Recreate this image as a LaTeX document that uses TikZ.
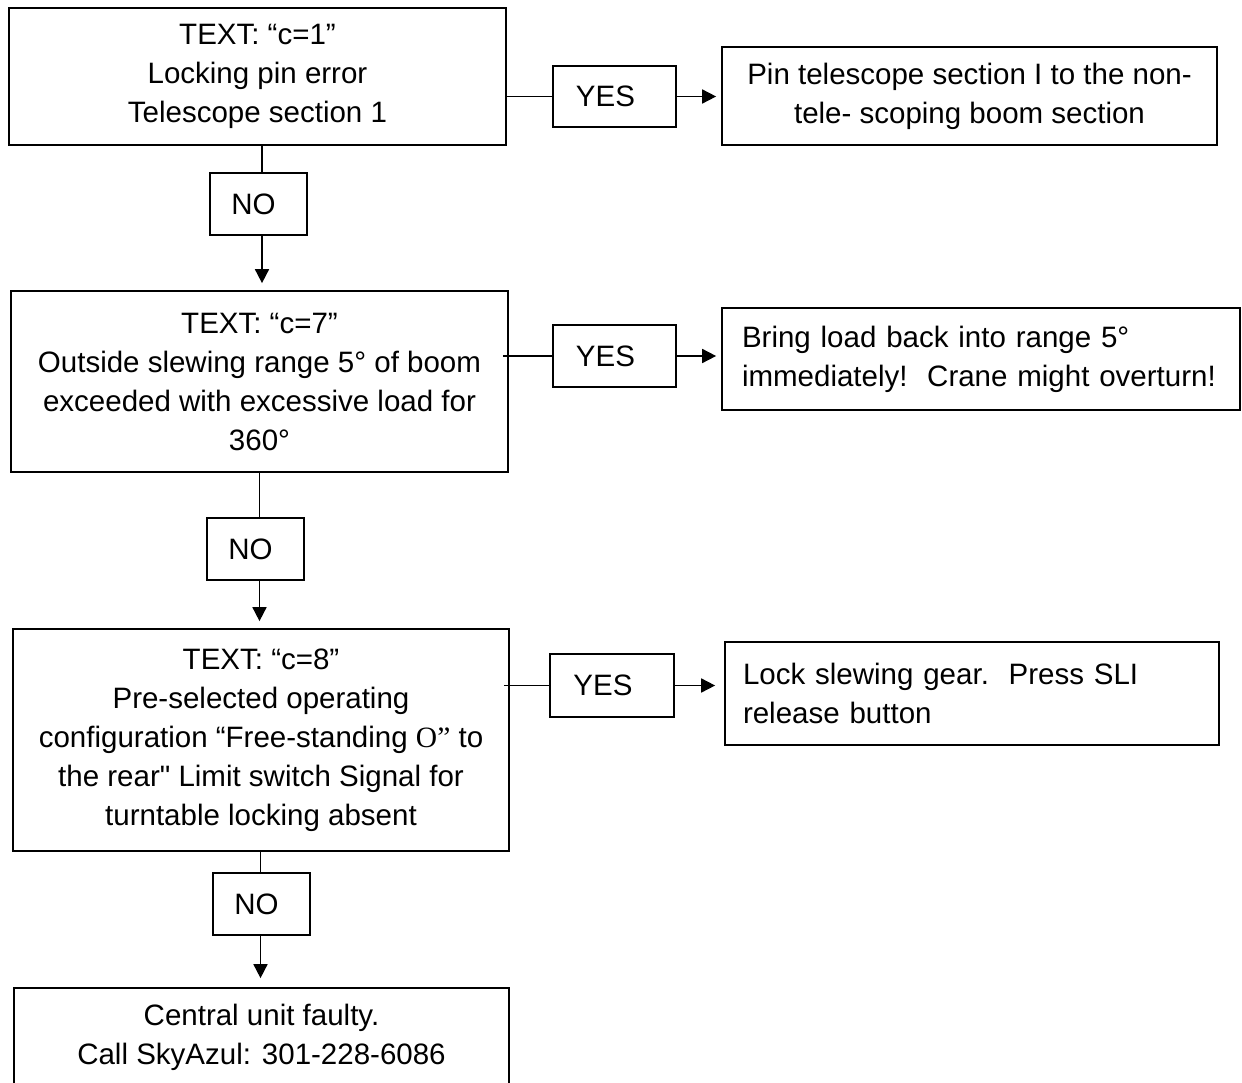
\documentclass[tikz,border=0pt]{standalone}
\usepackage{fontspec}
\newfontfamily\arial{Liberation Sans}
\newfontfamily\serifO{Liberation Serif}
\usetikzlibrary{arrows.meta}
\begin{document}
\begin{tikzpicture}[x=1pt,y=-1pt,
  box/.style={draw, line width=1.7pt, inner sep=0pt, align=center, font=\arial\fontsize{29.5}{39}\selectfont},
  lbox/.style={box, align=left},
  conn/.style={line width=1.7pt},
  arr/.style={line width=1.7pt, -{Triangle[length=14pt,width=14pt]}}]
\useasboundingbox (0,0) rectangle (1242,1083);
\fill[white] (0,0) rectangle (1242,1083);

% left column
\node[box, minimum width=497pt, minimum height=137pt] (b1) at (257.5,76.5)
  {TEXT: “c=1”\\Locking pin error\\Telescope section 1};
\node[box, minimum width=97pt, minimum height=62pt] (no1) at (258.5,204) {\hspace*{-10pt}NO};
\node[box, minimum width=497pt, minimum height=181pt] (b2) at (259.5,381.5)
  {TEXT: “c=7”\\Outside slewing range 5° of boom\\exceeded with excessive load for\\360°};
\node[box, minimum width=97pt, minimum height=62pt] (no2) at (255.5,549) {\hspace*{-10pt}NO};
\node[box, minimum width=496pt, minimum height=222pt] (b3) at (261,740)
  {TEXT: “c=8”\\Pre-selected operating\\configuration “Free-standing {\serifO O”} to\\the rear" Limit switch Signal for\\turntable locking absent};
\node[box, minimum width=97pt, minimum height=62pt] (no3) at (261.5,904) {\hspace*{-10pt}NO};
\node[box, minimum width=495pt, minimum height=98pt] (b4) at (261.5,1037)
  {Central unit faulty.\\Call SkyAzul: 301-228-6086};

% right column
\node[box, minimum width=123pt, minimum height=61pt] (y1) at (614.5,96.5) {\hspace*{-18pt}YES};
\node[box, minimum width=495pt, minimum height=98pt] (r1) at (969.5,96)
  {Pin telescope section I to the non-\\tele- scoping boom section};
\node[box, minimum width=123pt, minimum height=62pt] (y2) at (614.5,356) {\hspace*{-18pt}YES};
\node[lbox, text width=478pt, inner xsep=20pt, minimum height=102pt] (r2) at (981,359)
  {Bring load back into range 5°\\immediately!\ \ Crane might overturn!};
\node[box, minimum width=124pt, minimum height=63pt] (y3) at (612,685.5) {\hspace*{-18pt}YES};
\node[lbox, text width=458pt, inner xsep=18pt, minimum height=103pt] (r3) at (972,693.5)
  {Lock slewing gear.\ \ Press SLI\\release button};

% column x positions
\coordinate (c1) at (262,0);
\coordinate (c2) at (259.5,0);
\coordinate (c3) at (260.5,0);

% NO connectors
\draw[conn] (b1.south -| c1) -- (no1.north -| c1);
\draw[arr, shorten >=7pt] (no1.south -| c1) -- (b2.north -| c1);
\draw[conn] (b2.south -| c2) -- (no2.north -| c2);
\draw[arr, shorten >=7pt] (no2.south -| c2) -- (b3.north -| c2);
\draw[conn] (b3.south -| c3) -- (no3.north -| c3);
\draw[arr, shorten >=9pt] (no3.south -| c3) -- (b4.north -| c3);

% YES connectors
\draw[conn] (b1.east |- y1.west) -- (y1.west);
\draw[arr, shorten >=5pt] (y1.east) -- (r1.west |- y1.east);
\draw[conn] ([xshift=-6pt]b2.east |- y2.west) -- (y2.west);
\draw[arr, shorten >=5pt] (y2.east) -- (r2.west |- y2.east);
\draw[conn] ([xshift=-6pt]b3.east |- y3.west) -- (y3.west);
\draw[arr, shorten >=9pt] (y3.east) -- (r3.west |- y3.east);
\end{tikzpicture}
\end{document}
